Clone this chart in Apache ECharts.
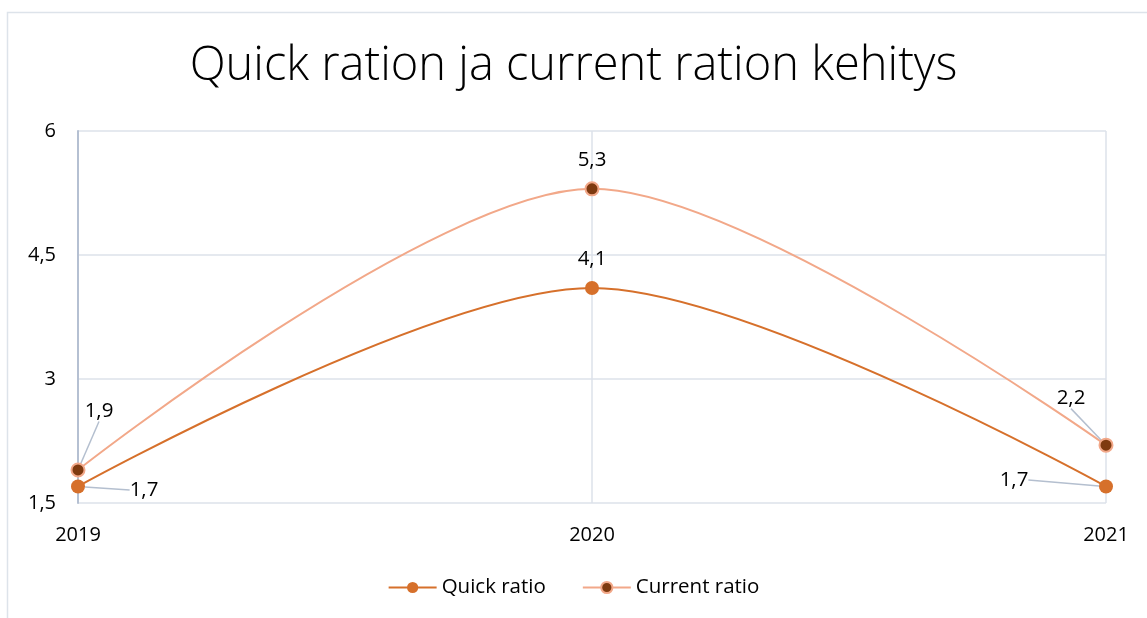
<!DOCTYPE html>
<html>
<head>
<meta charset="utf-8">
<script src="https://cdn.jsdelivr.net/npm/echarts@6/dist/echarts.min.js"></script>
<style>
  html, body { margin: 0; padding: 0; background: #fff; }
  #main { width: 1147px; height: 618px; }
</style>
</head>
<body>
<div id="main"></div>
<script>
const years = ['2019', '2020', '2021'];
const quickRatio = [1.7, 4.1, 1.7];
const currentRatio = [1.9, 5.3, 2.2];
const yTicks = [1.5, 3, 4.5, 6];

// label nudges (dx, dy) for the leader-lined labels, by data index
const quickShift = { 0: [66, 32], 2: [-92, 22] };
const currentShift = { 0: [21, -30], 2: [-35, -18] };

const comma = v => String(v).replace('.', ',');
const font = "'Open Sans', 'Noto Sans', sans-serif";

const shifter = shift => params => {
  const s = shift[params.dataIndex];
  if (!s) return {};
  return { dx: s[0], dy: s[1] };
};

const labelData = (vals, shift) => vals.map((v, i) => ({
  value: v,
  labelLine: { show: !!shift[i] }
}));

const myChart = echarts.init(document.getElementById('main'));
myChart.setOption({
  animation: false,
  title: {
    text: 'Quick ration ja current ration kehitys',
    left: 'center',
    top: 38,
    textStyle: { fontFamily: font, fontWeight: 300, fontSize: 47, color: '#000' }
  },
  graphic: [{
    type: 'rect',
    shape: { x: 7.5, y: 12.5, width: 1200, height: 700 },
    style: { fill: 'none', stroke: '#dde3ea', lineWidth: 1.5 },
    silent: true
  }],
  legend: {
    bottom: 15,
    left: 'center',
    itemWidth: 48,
    itemHeight: 14,
    itemGap: 36,
    textStyle: { fontFamily: font, fontSize: 20.5, color: '#000' },
    data: ['Quick ratio', 'Current ratio']
  },
  grid: { left: 78, right: 41, top: 131, bottom: 115 },
  xAxis: {
    type: 'category',
    data: years,
    boundaryGap: false,
    axisLine: { show: false },
    axisTick: { show: false },
    axisLabel: { fontFamily: font, fontSize: 20, color: '#000', margin: 22 },
    splitLine: { show: true, lineStyle: { color: '#dde2ea', width: 1.5 } }
  },
  yAxis: {
    type: 'value',
    min: yTicks[0],
    max: yTicks[yTicks.length - 1],
    interval: 1.5,
    axisLine: { show: true, lineStyle: { color: '#b5c0d2', width: 2 } },
    axisTick: { show: false },
    axisLabel: { fontFamily: font, fontSize: 20, color: '#000', margin: 22, formatter: v => comma(v) },
    splitLine: { lineStyle: { color: '#dde2ea', width: 1.5 } }
  },
  series: [
    {
      name: 'Quick ratio',
      type: 'line',
      data: labelData(quickRatio, quickShift),
      smooth: 0.3,
      symbol: 'circle',
      symbolSize: 14,
      lineStyle: { color: '#d6702b', width: 2 },
      itemStyle: { color: '#d6702b', borderColor: '#d6702b', borderWidth: 0 },
      label: {
        show: true, position: 'top', distance: 11,
        fontFamily: font, fontSize: 20.5, color: '#000',
        formatter: p => comma(p.value)
      },
      labelLine: { show: true, lineStyle: { color: '#b4bfcf', width: 1.5 } },
      labelLayout: shifter(quickShift),
      z: 3
    },
    {
      name: 'Current ratio',
      type: 'line',
      data: labelData(currentRatio, currentShift),
      smooth: 0.3,
      symbol: 'circle',
      symbolSize: 13,
      lineStyle: { color: '#f2a889', width: 2 },
      itemStyle: { color: '#7e3a10', borderColor: '#f2a889', borderWidth: 2 },
      label: {
        show: true, position: 'top', distance: 11,
        fontFamily: font, fontSize: 20.5, color: '#000',
        formatter: p => comma(p.value)
      },
      labelLine: { show: true, lineStyle: { color: '#b4bfcf', width: 1.5 } },
      labelLayout: shifter(currentShift),
      z: 4
    }
  ]
});
</script>
</body>
</html>
